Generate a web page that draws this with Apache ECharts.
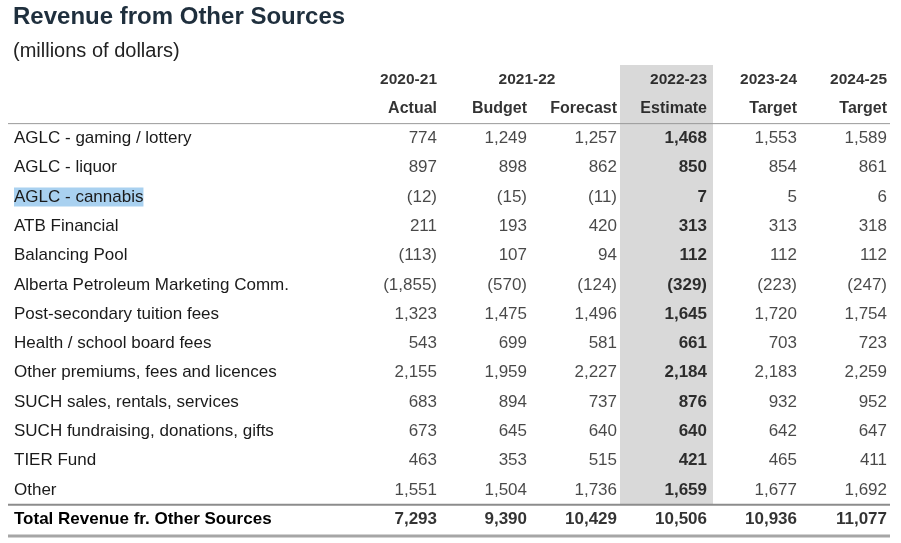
<!DOCTYPE html>
<html><head><meta charset="utf-8">
<script src="https://cdn.jsdelivr.net/npm/echarts@6/dist/echarts.min.js"></script>
<style>html,body{margin:0;padding:0;background:#fff}#c{width:901px;height:543px}</style>
</head><body><div id="c"></div>
<script>
const columns = ['2020-21 Actual','2021-22 Budget','2021-22 Forecast','2022-23 Estimate','2023-24 Target','2024-25 Target'];
const yearHeaders = ['2020-21','','2021-22','2022-23','2023-24','2024-25'];
const subHeaders = ['Actual','Budget','Forecast','Estimate','Target','Target'];
const rowLabels = ['AGLC - gaming / lottery','AGLC - liquor','AGLC - cannabis','ATB Financial','Balancing Pool','Alberta Petroleum Marketing Comm.','Post-secondary tuition fees','Health / school board fees','Other premiums, fees and licences','SUCH sales, rentals, services','SUCH fundraising, donations, gifts','TIER Fund','Other'];
const totalLabel = 'Total Revenue fr. Other Sources';
const values = [
 [774,1249,1257,1468,1553,1589],
 [897,898,862,850,854,861],
 [-12,-15,-11,7,5,6],
 [211,193,420,313,313,318],
 [-113,107,94,112,112,112],
 [-1855,-570,-124,-329,-223,-247],
 [1323,1475,1496,1645,1720,1754],
 [543,699,581,661,703,723],
 [2155,1959,2227,2184,2183,2259],
 [683,894,737,876,932,952],
 [673,645,640,640,642,647],
 [463,353,515,421,465,411],
 [1551,1504,1736,1659,1677,1692]
];
const totals = [7293,9390,10429,10506,10936,11077];

const fmt = v => { const s = Math.abs(v).toLocaleString('en-US'); return v<0 ? '('+s+')' : s; };
const yCats = ['h1','h2'].concat(rowLabels, [totalLabel]);
const data = [];
const TXT = '#1a1a1a';
yearHeaders.forEach((t,i)=>{ if(!t) return;
  data.push({value:[columns[i],'h1'], t, label:{fontWeight:'bold',fontSize:15.5,color:'#000', align: i===2?'center':'right', offset: i===2?[-45,0]:[45,0]}});
});
subHeaders.forEach((t,i)=>data.push({value:[columns[i],'h2'], t, label:{fontWeight:'bold',fontSize:16,color:'#000'}}));
values.forEach((r,ri)=>r.forEach((v,ci)=>data.push({value:[columns[ci],rowLabels[ri]], t:fmt(v), label:{fontWeight: ci===3?'bold':'normal', color: ci===3?'#000':TXT}})));
totals.forEach((v,ci)=>data.push({value:[columns[ci],totalLabel], t:fmt(v), label:{fontWeight:'bold',color:'#000'}}));

const chart = echarts.init(document.getElementById('c'));
chart.setOption({
  animation:false,
  textStyle:{fontFamily:'Liberation Sans, Arial, sans-serif'},
  title:[{text:'Revenue from Other Sources',left:8,top:0,textStyle:{fontSize:24,fontWeight:'bold',color:'#1f2f3d',fontFamily:'Liberation Sans, Arial'}},
         {text:'(millions of dollars)',left:8,top:36,textStyle:{fontSize:20,fontWeight:'normal',color:'#222',fontFamily:'Liberation Sans, Arial'}}],
  grid:{left:347,right:14,top:65,height:469},
  xAxis:{type:'category',data:columns,show:false},
  yAxis:{type:'category',data:yCats,inverse:true,axisLine:{show:false},axisTick:{show:false},
    axisLabel:{align:'left',margin:333,fontSize:17,color:TXT,fontFamily:'Liberation Sans, Arial',
      formatter:v=> v==='h1'||v==='h2' ? '' : (v===totalLabel ? '{b|'+v+'}' : (v==='AGLC - cannabis' ? '{h|'+v+'}' : v)),
      rich:{b:{fontWeight:'bold',fontSize:17,color:'#000'},h:{backgroundColor:'#a9d1f0',fontSize:17,color:TXT,padding:[1,0]}}}},
  series:[{type:'scatter',symbolSize:0,data,z:5,
    emphasis:{disabled:true},
    label:{show:true,position:'inside',align:'right',offset:[45,0],fontSize:17,color:TXT,formatter:p=>p.data.t}}]
});
const gw = 45;
const p0 = chart.convertToPixel({gridIndex:0},[columns[3],'h1']);
const pTot = chart.convertToPixel({gridIndex:0},[columns[3],totalLabel]);
const rh = 469/yCats.length;
const hdrBottom = chart.convertToPixel({gridIndex:0},[columns[0],'h2'])[1]+rh/2;
const totTop = pTot[1]-rh/2;
chart.setOption({graphic:[
  {type:'rect',z:-10,shape:{x:p0[0]-gw+3,y:65,width:gw*2+3,height:totTop-65},style:{fill:'#d9d9d9'}},
  {type:'line',shape:{x1:8,y1:hdrBottom,x2:890,y2:hdrBottom},style:{stroke:'#9a9a9a',lineWidth:1}},
  {type:'line',shape:{x1:8,y1:totTop,x2:890,y2:totTop},style:{stroke:'#8c8c8c',lineWidth:2}},
  {type:'line',shape:{x1:8,y1:pTot[1]+rh/2+2,x2:890,y2:pTot[1]+rh/2+2},style:{stroke:'#a6a6a6',lineWidth:3}}
]});
</script></body></html>
